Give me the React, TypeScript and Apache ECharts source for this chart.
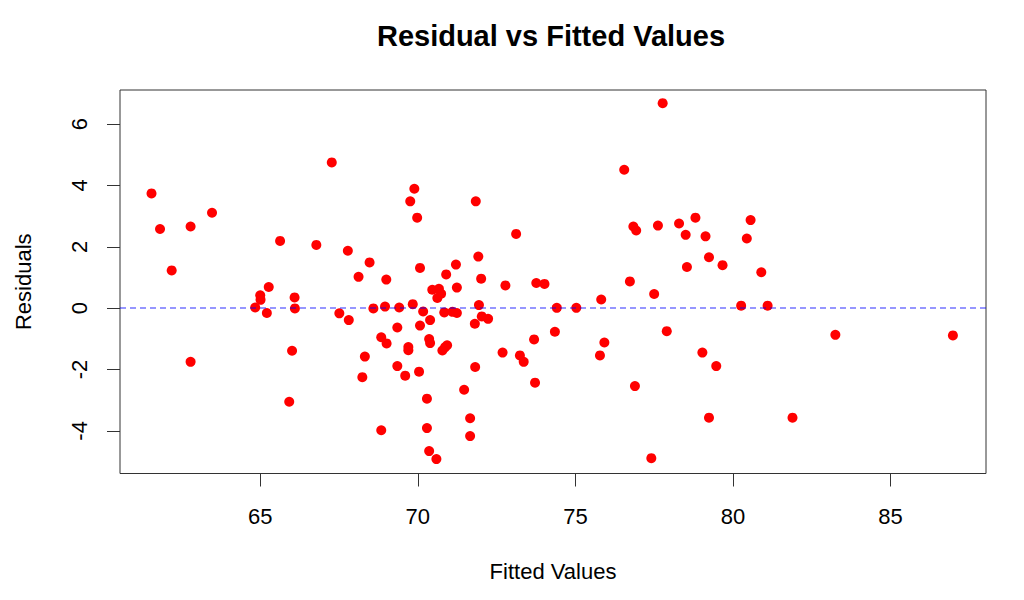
import React, { useEffect, useRef } from "react";
import * as echarts from "echarts";

const fittedValues: number[] = [
  61.55, 61.82, 62.79, 63.47, 62.19, 67.27, 65.63, 66.78, 65.27, 65.0,
  65.01, 64.84, 65.21, 66.09, 66.1, 67.51, 66.01, 62.79, 65.92, 69.89,
  69.76, 69.98, 71.84, 73.12, 67.78, 68.47, 68.12, 69.0, 70.07, 70.9,
  71.21, 71.92, 72.01, 72.78, 73.76, 74.02, 71.24, 70.46, 70.67, 70.74,
  70.62, 69.84, 67.81, 68.59, 68.96, 69.41, 70.17, 70.39, 70.84, 71.1,
  71.24, 71.94, 72.03, 72.23, 71.81, 74.41, 74.35, 69.35, 70.07, 68.84,
  69.01, 69.7, 69.7, 70.36, 70.39, 70.78, 70.86, 70.93, 68.32, 69.35,
  69.6, 70.04, 68.24, 71.82, 72.69, 73.24, 73.36, 73.69, 73.72, 71.47,
  70.29, 71.66, 68.84, 70.29, 71.66, 70.36, 70.59, 77.77, 76.55, 76.84,
  76.93, 77.62, 78.29, 78.81, 78.5, 79.13, 80.56, 80.44, 79.24, 79.67,
  78.54, 80.9, 76.73, 77.5, 75.82, 75.03, 80.26, 81.1, 77.9, 75.92,
  75.78, 79.03, 79.47, 76.89, 79.24, 77.41, 83.25, 86.98, 81.89,
];

const residuals: number[] = [
  3.74, 2.58, 2.66, 3.11, 1.23, 4.75, 2.19, 2.06, 0.69, 0.42,
  0.27, 0.02, -0.16, 0.35, -0.01, -0.17, -1.39, -1.75, -3.05, 3.89,
  3.48, 2.95, 3.48, 2.42, 1.87, 1.49, 1.02, 0.93, 1.31, 1.1,
  1.42, 1.68, 0.96, 0.74, 0.82, 0.79, 0.67, 0.6, 0.63, 0.47,
  0.33, 0.13, -0.39, -0.01, 0.05, 0.02, -0.11, -0.39, -0.14, -0.12,
  -0.16, 0.1, -0.27, -0.35, -0.51, 0.01, -0.77, -0.63, -0.57, -0.95,
  -1.15, -1.27, -1.37, -1.01, -1.14, -1.38, -1.28, -1.21, -1.58, -1.89,
  -2.2, -2.07, -2.25, -1.92, -1.45, -1.54, -1.75, -1.02, -2.43, -2.66,
  -2.95, -3.59, -3.98, -3.91, -4.17, -4.66, -4.92, 6.68, 4.51, 2.66,
  2.53, 2.69, 2.76, 2.95, 2.39, 2.34, 2.87, 2.27, 1.66, 1.4,
  1.34, 1.17, 0.87, 0.46, 0.28, 0.01, 0.08, 0.08, -0.75, -1.12,
  -1.54, -1.45, -1.89, -2.54, -3.57, -4.89, -0.87, -0.89, -3.57,
];

const xTicks: number[] = [65, 70, 75, 80, 85];
const yTicks: number[] = [-4, -2, 0, 2, 4, 6];

const FONT = "'Liberation Sans', Arial, Helvetica, sans-serif";

export default function App() {
  const ref = useRef<HTMLDivElement>(null);

  useEffect(() => {
    if (!ref.current) return;
    const chart = echarts.init(ref.current, undefined, { renderer: "svg" });
    const points = fittedValues.map((x, i) => [x, residuals[i]]);
    chart.setOption({
      animation: false,
      backgroundColor: "#ffffff",
      title: {
        text: "Residual vs Fitted Values",
        left: 546,
        top: 16,
        textAlign: "center",
        textStyle: {
          fontFamily: FONT,
          fontSize: 29,
          fontWeight: "bold",
          color: "#000000",
        },
      },
      grid: {
        left: 120,
        right: 38,
        top: 90,
        bottom: 126.5,
        show: true,
        borderColor: "#333333",
        borderWidth: 1,
        backgroundColor: "transparent",
      },
      xAxis: {
        type: "value",
        min: 60.55,
        max: 88.03,
        name: "Fitted Values",
        nameLocation: "middle",
        nameGap: 87,
        nameTextStyle: { fontFamily: FONT, fontSize: 22, color: "#000000", verticalAlign: "top" },
        axisLine: { show: false, onZero: false },
        splitLine: { show: false },
        axisTick: {
          show: true,
          customValues: xTicks,
          length: 13,
          lineStyle: { color: "#333333" },
        },
        axisLabel: {
          customValues: xTicks,
          margin: 32,
          fontFamily: FONT,
          fontSize: 22,
          color: "#000000",
        },
      },
      yAxis: {
        type: "value",
        min: -5.39,
        max: 7.11,
        name: "Residuals",
        nameLocation: "middle",
        nameGap: 86,
        nameRotate: 90,
        nameTextStyle: { fontFamily: FONT, fontSize: 22, color: "#000000" },
        axisLine: { show: false, onZero: false },
        splitLine: { show: false },
        axisTick: {
          show: true,
          customValues: yTicks,
          length: 13,
          lineStyle: { color: "#333333" },
        },
        axisLabel: {
          customValues: yTicks,
          rotate: 90,
          margin: 30,
          fontFamily: FONT,
          fontSize: 22,
          color: "#000000",
        },
      },
      series: [
        {
          type: "scatter",
          data: points,
          symbol: "circle",
          symbolSize: 10,
          itemStyle: { color: "#ff0000", opacity: 1 },
          markLine: {
            silent: true,
            symbol: ["none", "none"],
            label: { show: false },
            lineStyle: { color: "rgba(0,0,255,0.55)", type: [6, 4], width: 1.5 },
            data: [{ yAxis: 0 }],
          },
          z: 3,
        },
      ],
    });
    return () => chart.dispose();
  }, []);

  return (
    <div
      ref={ref}
      style={{ position: "fixed", left: 0, top: 0, width: 1024, height: 600, background: "#fff" }}
    />
  );
}
